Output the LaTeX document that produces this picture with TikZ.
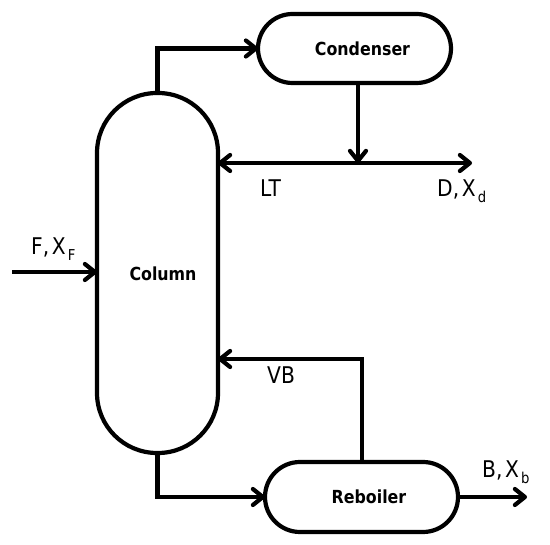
\documentclass[tikz,border=0pt]{standalone}
\usepackage{fontspec}
\setmainfont{DejaVu Sans}
\usetikzlibrary{arrows.meta}
\newcommand{\sqz}[1]{\scalebox{0.88}[1]{#1}}
\newcommand{\sbs}[1]{\hspace{2.5pt}\raisebox{-6pt}{\fontsize{15}{15}\selectfont #1}}
\newcommand{\cma}{,\hspace{3pt}}
\tikzset{
  unit/.style={draw=black, line width=4.2pt, inner sep=0pt, outer sep=0pt, fill=white},
  pipe/.style={line width=4.2pt, -{Straight Barb[length=10pt,width=16pt,round]}},
  lab/.style={inner sep=0pt, font=\fontsize{23}{23}\selectfont},
  blab/.style={inner sep=0pt, font=\fontsize{18}{18}\selectfont\bfseries},
}
\begin{document}
\begin{tikzpicture}[x=1pt,y=-1pt]
\useasboundingbox[fill=white] (0,0) rectangle (550,545);
\node[unit, rounded corners=60pt, minimum width=121pt, minimum height=360pt] (col) at (157.5,273) {};
\node[unit, rounded corners=34.5pt, minimum width=193pt, minimum height=69pt] (cond) at (354.5,48.5) {};
\node[unit, rounded corners=35pt, minimum width=193pt, minimum height=70pt] (reb) at (361.5,497) {};
\node[blab] (tcol) at (163,274) {\sqz{Column}};
\node[blab] (tcond) at (362.5,49) {\sqz{Condenser}};
\node[blab] (treb) at (369,497) {\sqz{Reboiler}};
\coordinate (J) at (358,163);
\coordinate (Dend) at (472,163);
\coordinate (Fin) at (12,272);
\coordinate (V) at (362,359);
\coordinate (Bend) at (527,497);
\draw[pipe] (col.north) |- (cond.west);
\draw[pipe] (cond.south -| J) -- (J);
\draw[pipe] (J) -- (Dend);
\draw[pipe] (J) -- (col.east |- J);
\draw[pipe] (Fin) -- (col.west |- Fin);
\draw[pipe] (reb.north -| V) |- (col.east |- V);
\draw[pipe] (col.south) |- (reb.west);
\draw[pipe] (reb.east) -- (Bend);
\node[lab, anchor=base west] (lt) at (260,197) {\sqz{LT}};
\node[lab, anchor=base west] (dx) at (437,197) {\sqz{D\cma X\sbs{d}}};
\node[lab, anchor=base west] (fx) at (31,255) {\sqz{F\cma X\sbs{F}}};
\node[lab, anchor=base west] (vb) at (267,384) {\sqz{VB}};
\node[lab, anchor=base west] (bx) at (482,478) {\sqz{B\cma X\sbs{b}}};
\end{tikzpicture}
\end{document}
